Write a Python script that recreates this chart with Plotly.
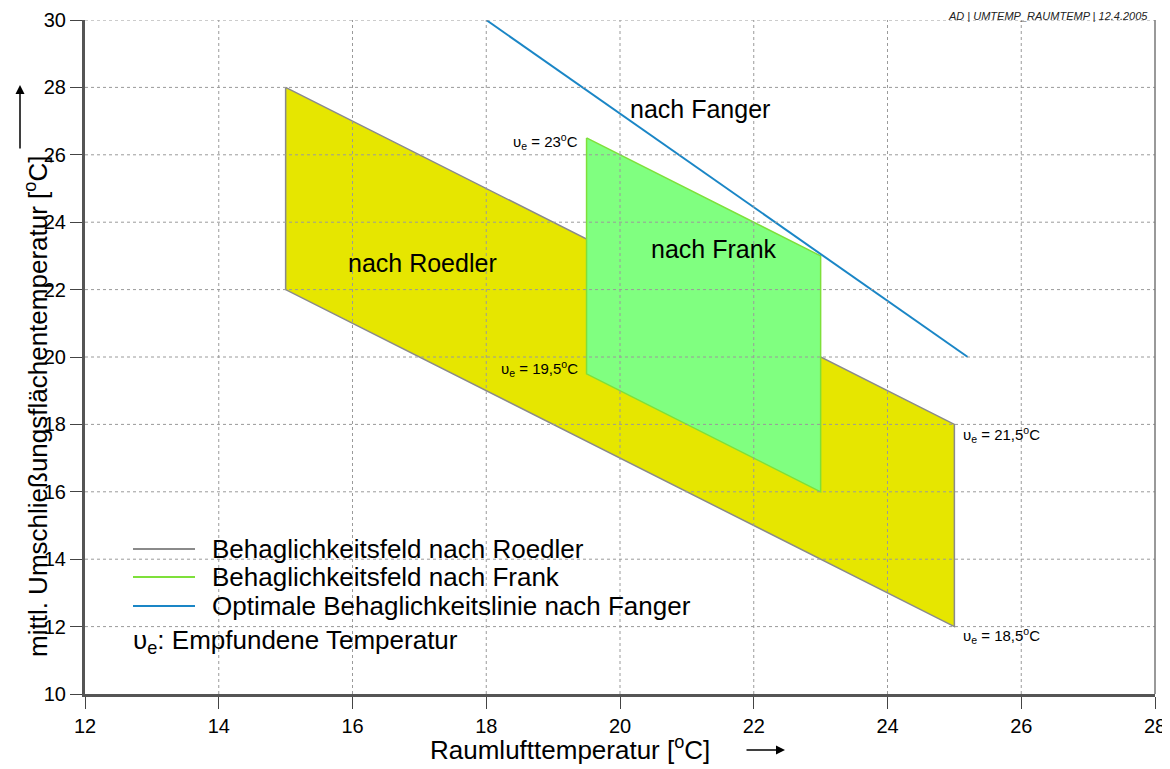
import plotly.graph_objects as go

# ---- data ----
roedler_x = [15, 15, 25, 25, 15]
roedler_y = [28, 22, 12, 18, 28]
frank_x = [19.5, 19.5, 23, 23, 19.5]
frank_y = [26.5, 19.5, 16, 23, 26.5]
fanger_x = [18, 25.2]
fanger_y = [30, 20]

x_ticks = [12, 14, 16, 18, 20, 22, 24, 26, 28]
y_ticks = [10, 12, 14, 16, 18, 20, 22, 24, 26, 28, 30]

series_names = ["Behaglichkeitsfeld nach Roedler", "Behaglichkeitsfeld nach Frank",
                "Optimale Behaglichkeitslinie nach Fanger"]

region_labels = ["nach Roedler", "nach Frank", "nach Fanger"]
region_label_x = [17.05, 21.4, 21.2]
region_label_y = [22.8, 23.2, 27.35]

ve_labels = ["υ<sub>e</sub> = 23<sup>o</sup>C", "υ<sub>e</sub> = 19,5<sup>o</sup>C",
             "υ<sub>e</sub> = 21,5<sup>o</sup>C", "υ<sub>e</sub> = 18,5<sup>o</sup>C"]
ve_x = [19.4, 19.4, 25.1, 25.1]
ve_y = [26.4, 19.65, 17.7, 11.75]
ve_anchor = ["right", "right", "left", "left"]

FONT = "Liberation Sans, Arial, sans-serif"
GRAY = "#8a8a8a"
GREEN = "#7ee03a"
BLUE = "#1a86c6"
colors = [GRAY, GREEN, BLUE]

# layout geometry (pixels); page body has an 8px margin
OFF = 8
W, H = 1170 - OFF, 769 - OFF
ML, MR, MT, MB = 85 - OFF, 15, 20 - OFF, 75
PW, PH = W - ML - MR, H - MT - MB


def px(xp):
    # screen pixel -> paper x
    return (xp - OFF - ML) / PW


def py(yp):
    # screen pixel -> paper y
    return (H - MB - (yp - OFF)) / PH


fig = go.Figure()
fig.add_trace(go.Scatter(x=roedler_x, y=roedler_y, mode="lines", fill="toself",
                         fillcolor="#e6e600", line=dict(color=GRAY, width=1.5),
                         name=series_names[0], hoverinfo="skip", showlegend=False))
fig.add_trace(go.Scatter(x=frank_x, y=frank_y, mode="lines", fill="toself",
                         fillcolor="#80ff80", line=dict(color=GREEN, width=1.5),
                         name=series_names[1], hoverinfo="skip", showlegend=False))
fig.add_trace(go.Scatter(x=fanger_x, y=fanger_y, mode="lines",
                         line=dict(color=BLUE, width=2),
                         name=series_names[2], hoverinfo="skip", showlegend=False))

# grid lines drawn above the filled areas
for xv in x_ticks[1:-1]:
    fig.add_shape(type="line", xref="x", yref="paper", x0=xv, x1=xv, y0=0, y1=1,
                  line=dict(color="#9a9a9a", width=1, dash="dot"), layer="above")
for yv in y_ticks[1:]:
    fig.add_shape(type="line", xref="paper", yref="y", x0=0, x1=1, y0=yv, y1=yv,
                  line=dict(color="#9a9a9a", width=1, dash="dot"), layer="above")
# right frame
fig.add_shape(type="line", xref="paper", yref="paper", x0=1, x1=1, y0=0, y1=1,
              line=dict(color="#777777", width=1.5), layer="above")

for t, xx, yy in zip(region_labels, region_label_x, region_label_y):
    fig.add_annotation(x=xx, y=yy, text=t, showarrow=False,
                       font=dict(family=FONT, size=25, color="black"))
for t, xx, yy, a in zip(ve_labels, ve_x, ve_y, ve_anchor):
    fig.add_annotation(x=xx, y=yy, text=t, showarrow=False, xanchor=a,
                       font=dict(family=FONT, size=15, color="black"))

# manual legend
legend_rows = [549, 577, 606]
for name, c, r in zip(series_names, colors, legend_rows):
    fig.add_shape(type="line", xref="paper", yref="paper", x0=px(133), x1=px(195),
                  y0=py(r), y1=py(r), line=dict(color=c, width=2), layer="above")
    fig.add_annotation(xref="paper", yref="paper", x=px(210), y=py(r), xanchor="left",
                       yanchor="middle", text=name, showarrow=False,
                       font=dict(family=FONT, size=26, color="black"))
fig.add_annotation(xref="paper", yref="paper", x=px(131), y=py(641), xanchor="left",
                   yanchor="middle", text="υ<sub>e</sub>: Empfundene Temperatur",
                   showarrow=False, font=dict(family=FONT, size=26, color="black"))

# axis titles with arrows
fig.add_annotation(xref="paper", yref="paper", x=px(570), y=py(748), xanchor="center",
                   yanchor="middle", text="Raumlufttemperatur [<sup>o</sup>C]", showarrow=False,
                   font=dict(family=FONT, size=26, color="black"))
fig.add_annotation(xref="paper", yref="paper", x=px(785), y=py(750), ax=-40, ay=0,
                   text="", showarrow=True, arrowhead=2, arrowsize=1.2, arrowwidth=1.5,
                   arrowcolor="black")
fig.add_annotation(xref="paper", yref="paper", x=px(36), y=py(407), textangle=-90,
                   xanchor="center", yanchor="middle",
                   text="mittl. Umschließungsflächentemperatur [<sup>o</sup>C]", showarrow=False,
                   font=dict(family=FONT, size=26, color="black"))
fig.add_annotation(xref="paper", yref="paper", x=px(20), y=py(85), ax=0, ay=65,
                   text="", showarrow=True, arrowhead=2, arrowsize=1.2, arrowwidth=1.5,
                   arrowcolor="black")

fig.add_annotation(xref="paper", yref="paper", x=px(1150), y=py(8), yanchor="top",
                   xanchor="right",
                   text="<i>AD | UMTEMP_RAUMTEMP | 12.4.2005</i>", showarrow=False,
                   font=dict(family=FONT, size=11, color="#222222"))

fig.update_layout(
    width=W, height=H,
    margin=dict(l=ML, r=MR, t=MT, b=MB, autoexpand=False),
    plot_bgcolor="white", paper_bgcolor="white",
    font=dict(family=FONT, color="black"),
    showlegend=False,
)
fig.update_xaxes(range=[12, 28], tickvals=x_ticks, showgrid=False, zeroline=False,
                 showline=True, linecolor="#555555", linewidth=3, automargin=False,
                 ticks="outside", ticklen=12, tickcolor="#444444",
                 tickfont=dict(family=FONT, size=20, color="black"))
fig.update_yaxes(range=[10, 30], tickvals=y_ticks, showgrid=False, zeroline=False,
                 showline=True, linecolor="#555555", linewidth=3, automargin=False,
                 ticks="outside", ticklen=12, tickcolor="#444444",
                 tickfont=dict(family=FONT, size=20, color="black"))

fig.write_html("out.html")
